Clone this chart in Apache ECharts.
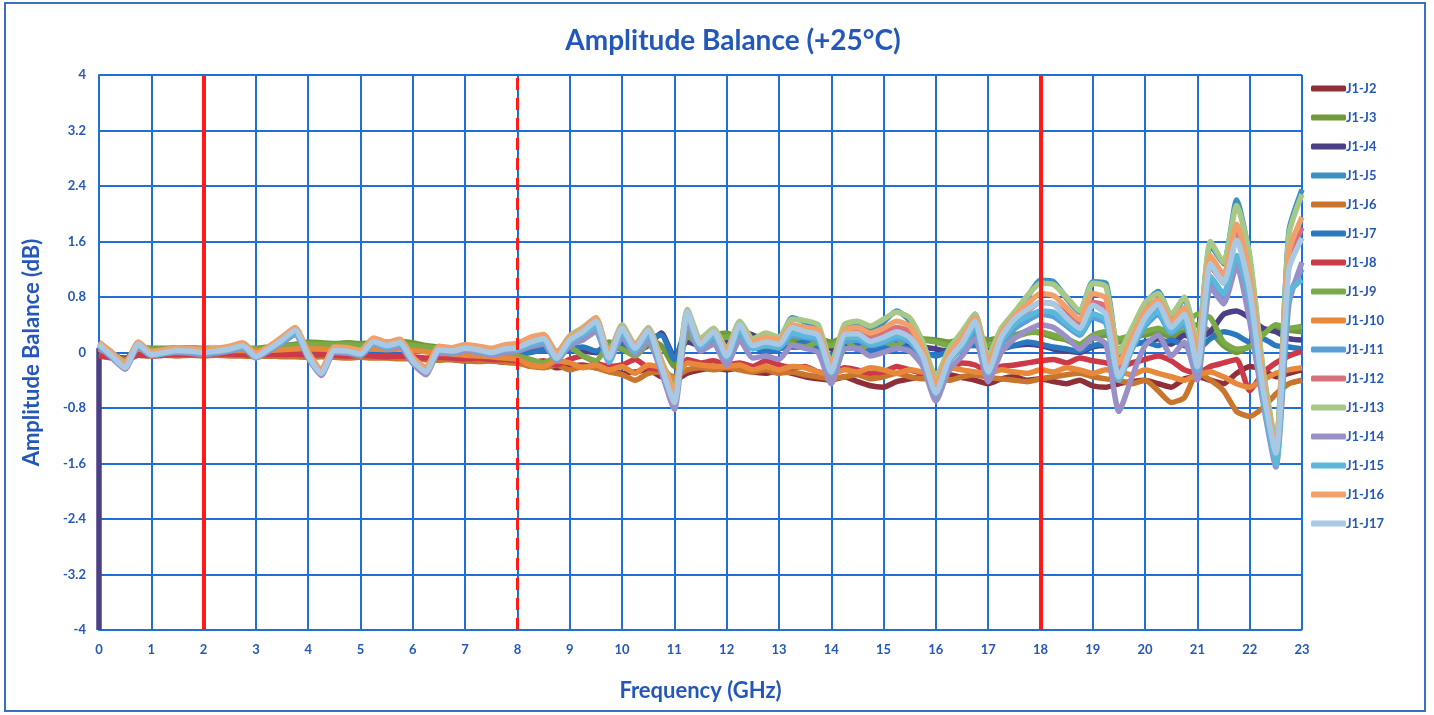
<!DOCTYPE html>
<html>
<head>
<meta charset="utf-8">
<title>Amplitude Balance (+25°C)</title>
<script src="https://cdn.jsdelivr.net/npm/echarts@6/dist/echarts.min.js"></script>
<style>
  html, body { margin: 0; padding: 0; background: #fff; }
  #chart { width: 1434px; height: 715px; }
</style>
</head>
<body>
<div id="chart"></div>
<script>
// sample points (GHz)
const freqGHz = [
  0, 0.25, 0.5, 0.75, 1, 1.25, 1.5, 1.75,
  2, 2.25, 2.5, 2.75, 3, 3.25, 3.5, 3.75,
  4, 4.25, 4.5, 4.75, 5, 5.25, 5.5, 5.75,
  6, 6.25, 6.5, 6.75, 7, 7.25, 7.5, 7.75,
  8, 8.25, 8.5, 8.75, 9, 9.25, 9.5, 9.75,
  10, 10.25, 10.5, 10.75, 11, 11.25, 11.5, 11.75,
  12, 12.25, 12.5, 12.75, 13, 13.25, 13.5, 13.75,
  14, 14.25, 14.5, 14.75, 15, 15.25, 15.5, 15.75,
  16, 16.25, 16.5, 16.75, 17, 17.25, 17.5, 17.75,
  18, 18.25, 18.5, 18.75, 19, 19.25, 19.5, 19.75,
  20, 20.25, 20.5, 20.75, 21, 21.25, 21.5, 21.75,
  22, 22.25, 22.5, 22.75, 23
];

const seriesNames = ['J1-J2', 'J1-J3', 'J1-J4', 'J1-J5', 'J1-J6', 'J1-J7', 'J1-J8', 'J1-J9',
  'J1-J10', 'J1-J11', 'J1-J12', 'J1-J13', 'J1-J14', 'J1-J15', 'J1-J16', 'J1-J17'];

const j2 = [
  0.02, -0.06, -0.08, -0.02, -0.04, -0.04, -0.03, -0.04,
  -0.04, -0.04, -0.03, -0.04, -0.05, -0.05, -0.04, -0.05,
  -0.06, -0.05, -0.06, -0.05, -0.06, -0.07, -0.06, -0.08,
  -0.08, -0.10, -0.09, -0.10, -0.12, -0.11, -0.12, -0.14,
  -0.15, -0.18, -0.16, -0.22, -0.20, -0.18, -0.22, -0.25,
  -0.30, -0.28, -0.25, -0.35, -0.40, -0.30, -0.25, -0.22,
  -0.25, -0.22, -0.28, -0.30, -0.25, -0.30, -0.35, -0.38,
  -0.40, -0.35, -0.42, -0.48, -0.50, -0.42, -0.38, -0.35,
  -0.38, -0.32, -0.36, -0.40, -0.45, -0.38, -0.35, -0.40,
  -0.38, -0.42, -0.45, -0.40, -0.48, -0.50, -0.45, -0.42,
  -0.40, -0.45, -0.50, -0.38, -0.35, -0.40, -0.45, -0.30,
  -0.20, -0.25, -0.35, -0.30, -0.25
];
const j3 = [
  0.08, -0.04, -0.12, 0.08, 0.06, 0.06, 0.07, 0.07,
  0.06, 0.06, 0.07, 0.07, 0.06, 0.08, 0.10, 0.12,
  0.15, 0.14, 0.13, 0.14, 0.13, 0.14, 0.15, 0.16,
  0.14, 0.10, 0.08, 0.06, 0.05, 0.04, 0.02, 0.00,
  -0.02, 0.05, 0.08, 0.02, 0.10, 0.05, 0.00, 0.15,
  0.10, 0.05, 0.18, 0.10, -0.20, 0.30, 0.20, 0.25,
  0.28, 0.20, 0.25, 0.18, 0.22, 0.18, 0.15, 0.20,
  0.15, 0.22, 0.12, 0.20, 0.22, 0.18, 0.25, 0.20,
  0.18, 0.15, 0.20, 0.25, 0.18, 0.22, 0.25, 0.30,
  0.28, 0.22, 0.18, 0.10, 0.20, 0.25, 0.15, 0.22,
  0.25, 0.30, 0.22, 0.30, 0.40, 0.30, 0.10, 0.00,
  0.10, 0.30, 0.35, 0.32, 0.30
];
// J1-J4 starts with a drop to -4 dB at 0 GHz
const j4Start = [0, -4];
const j4 = [
  0.06, -0.02, -0.10, 0.06, 0.03, 0.03, 0.04, 0.04,
  0.03, 0.03, 0.04, 0.04, 0.03, 0.04, 0.05, 0.06,
  0.08, 0.08, 0.07, 0.08, 0.06, 0.07, 0.08, 0.08,
  0.07, 0.05, 0.04, 0.02, 0.01, 0.00, -0.01, -0.02,
  -0.03, 0.02, 0.05, 0.00, 0.06, 0.02, 0.00, 0.08,
  0.05, 0.02, 0.10, 0.28, -0.05, 0.15, 0.10, 0.12,
  0.15, 0.30, 0.25, 0.10, 0.12, 0.08, 0.10, 0.22,
  0.05, 0.10, 0.05, 0.08, 0.10, 0.05, 0.12, 0.08,
  0.05, 0.02, 0.08, 0.12, 0.05, 0.08, 0.10, 0.12,
  0.10, 0.05, 0.02, 0.00, 0.08, 0.10, 0.05, 0.12,
  0.15, 0.20, 0.12, 0.25, 0.20, 0.30, 0.55, 0.60,
  0.50, 0.35, 0.30, 0.20, 0.18
];
const j5 = [
  0.13, -0.02, -0.18, 0.13, -0.02, 0.01, 0.04, 0.03,
  0.01, 0.03, 0.06, 0.11, -0.04, 0.06, 0.20, 0.33,
  -0.03, -0.27, 0.05, 0.04, 0.00, 0.18, 0.12, 0.16,
  -0.10, -0.25, 0.06, 0.04, 0.08, 0.06, 0.03, 0.08,
  0.10, 0.20, 0.24, -0.03, 0.22, 0.34, 0.48, -0.04,
  0.38, 0.10, 0.34, -0.14, -0.60, 0.60, 0.16, 0.33,
  0.02, 0.44, 0.16, 0.22, 0.20, 0.50, 0.44, 0.36,
  -0.20, 0.36, 0.42, 0.32, 0.44, 0.60, 0.46, 0.10,
  -0.40, 0.00, 0.26, 0.55, -0.10, 0.30, 0.56, 0.80,
  1.04, 1.02, 0.78, 0.58, 1.02, 1.00, -0.05, 0.30,
  0.70, 0.88, 0.52, 0.78, 0.10, 1.55, 1.28, 2.20,
  1.35, -0.25, -1.35, 1.75, 2.35
];
const j6 = [
  -0.02, -0.06, -0.10, -0.04, -0.05, -0.04, -0.05, -0.04,
  -0.05, -0.04, -0.05, -0.05, -0.06, -0.05, -0.06, -0.06,
  -0.07, -0.06, -0.07, -0.08, -0.07, -0.08, -0.08, -0.09,
  -0.09, -0.10, -0.11, -0.10, -0.12, -0.13, -0.12, -0.14,
  -0.15, -0.20, -0.22, -0.18, -0.25, -0.20, -0.22, -0.28,
  -0.32, -0.40, -0.30, -0.28, -0.35, -0.25, -0.22, -0.25,
  -0.22, -0.25, -0.28, -0.25, -0.30, -0.28, -0.32, -0.35,
  -0.38, -0.35, -0.32, -0.38, -0.35, -0.30, -0.35, -0.38,
  -0.36, -0.40, -0.35, -0.32, -0.36, -0.38, -0.40, -0.42,
  -0.38, -0.35, -0.32, -0.30, -0.35, -0.38, -0.40, -0.45,
  -0.40, -0.55, -0.72, -0.65, -0.30, -0.40, -0.55, -0.85,
  -0.92, -0.80, -0.60, -0.45, -0.40
];
const j7 = [
  0.05, -0.04, -0.12, 0.05, 0.00, 0.01, 0.02, 0.02,
  0.01, 0.01, 0.02, 0.02, 0.01, 0.02, 0.03, 0.04,
  0.05, 0.05, 0.04, 0.05, 0.04, 0.05, 0.05, 0.06,
  0.05, 0.03, 0.02, 0.01, 0.00, -0.01, -0.02, -0.02,
  -0.03, 0.00, 0.04, -0.02, 0.05, 0.08, 0.02, 0.10,
  0.12, 0.05, 0.20, 0.25, -0.10, 0.35, 0.15, 0.20,
  0.05, 0.22, 0.08, 0.02, 0.05, 0.10, 0.15, 0.05,
  -0.05, 0.05, 0.10, 0.02, 0.08, 0.12, 0.05, 0.00,
  -0.05, 0.02, 0.08, 0.10, 0.00, 0.05, 0.10, 0.15,
  0.12, 0.08, 0.05, 0.02, 0.10, 0.12, 0.05, 0.10,
  0.15, 0.10, 0.18, 0.10, 0.05, 0.20, 0.30, 0.25,
  0.15, 0.20, 0.10, 0.08, 0.05
];
const j8 = [
  -0.05, -0.08, -0.12, -0.04, -0.05, -0.04, -0.03, -0.03,
  -0.03, -0.02, -0.02, -0.03, -0.04, -0.03, -0.03, -0.02,
  -0.04, -0.03, -0.04, -0.05, -0.04, -0.05, -0.06, -0.05,
  -0.06, -0.08, -0.07, -0.08, -0.09, -0.08, -0.10, -0.10,
  -0.12, -0.15, -0.12, -0.18, -0.10, -0.05, -0.15, -0.20,
  -0.18, -0.10, -0.22, -0.25, -0.40, -0.10, -0.15, -0.12,
  -0.18, -0.15, -0.20, -0.12, -0.18, -0.22, -0.20, -0.28,
  -0.30, -0.22, -0.25, -0.30, -0.28, -0.20, -0.25, -0.30,
  -0.32, -0.25, -0.15, -0.18, -0.28, -0.20, -0.18, -0.15,
  -0.12, -0.10, -0.15, -0.08, -0.12, -0.15, -0.22, -0.15,
  -0.10, -0.05, -0.12, -0.25, -0.30, -0.20, -0.15, -0.10,
  -0.55, -0.30, -0.15, -0.05, 0.02
];
const j9 = [
  0.10, -0.02, -0.15, 0.10, 0.04, 0.05, 0.06, 0.06,
  0.05, 0.05, 0.06, 0.06, 0.05, 0.06, 0.08, 0.10,
  0.12, 0.12, 0.11, 0.12, 0.10, 0.11, 0.12, 0.12,
  0.10, 0.08, 0.06, 0.04, 0.03, 0.02, 0.00, -0.02,
  -0.05, -0.10, -0.15, -0.05, 0.08, -0.05, -0.12, 0.10,
  0.05, -0.05, 0.12, -0.15, -0.45, 0.25, 0.10, 0.20,
  0.22, 0.25, 0.15, 0.10, 0.18, 0.12, 0.08, 0.15,
  0.10, 0.18, 0.05, 0.12, 0.15, 0.10, 0.22, 0.18,
  0.15, 0.10, 0.12, 0.18, 0.10, 0.16, 0.22, 0.28,
  0.30, 0.25, 0.20, 0.12, 0.25, 0.30, 0.20, 0.25,
  0.30, 0.35, 0.28, 0.40, 0.55, 0.50, 0.15, 0.05,
  0.08, 0.25, 0.40, 0.35, 0.38
];
const j10 = [
  0.05, -0.03, -0.12, 0.05, 0.00, 0.02, 0.03, 0.02,
  0.01, 0.02, 0.03, 0.03, 0.02, 0.03, 0.04, 0.05,
  0.06, 0.05, 0.04, 0.05, 0.04, 0.05, 0.04, 0.05,
  0.03, 0.01, -0.01, -0.02, -0.04, -0.05, -0.06, -0.08,
  -0.10, -0.18, -0.20, -0.12, -0.15, -0.22, -0.18, -0.25,
  -0.20, -0.30, -0.18, -0.22, -0.38, -0.15, -0.18, -0.20,
  -0.20, -0.18, -0.25, -0.20, -0.25, -0.20, -0.22, -0.28,
  -0.32, -0.25, -0.28, -0.22, -0.25, -0.30, -0.25, -0.28,
  -0.30, -0.22, -0.25, -0.28, -0.30, -0.25, -0.28, -0.30,
  -0.25, -0.28, -0.22, -0.25, -0.30, -0.25, -0.28, -0.32,
  -0.25, -0.30, -0.35, -0.40, -0.32, -0.28, -0.35, -0.45,
  -0.50, -0.40, -0.30, -0.25, -0.22
];
const j11 = [
  0.09, -0.06, -0.19, 0.09, -0.04, -0.01, 0.02, 0.01,
  -0.01, 0.01, 0.03, 0.07, -0.06, 0.03, 0.14, 0.26,
  -0.06, -0.26, 0.02, 0.01, -0.03, 0.13, 0.08, 0.11,
  -0.12, -0.24, 0.03, 0.01, 0.04, 0.03, -0.01, 0.03,
  0.04, 0.10, 0.14, -0.08, 0.12, 0.22, 0.32, -0.10,
  0.26, 0.02, 0.22, -0.20, -0.62, 0.45, 0.08, 0.22,
  -0.06, 0.28, 0.06, 0.10, 0.06, 0.24, 0.22, 0.16,
  -0.26, 0.16, 0.18, 0.10, 0.14, 0.20, 0.15, -0.08,
  -0.52, -0.12, 0.06, 0.32, -0.26, 0.12, 0.34, 0.46,
  0.55, 0.52, 0.38, 0.25, 0.50, 0.42, -0.30, 0.05,
  0.38, 0.55, 0.28, 0.42, -0.30, 1.00, 0.80, 1.30,
  0.70, -0.55, -1.50, 0.80, 1.20
];
const j12 = [
  0.11, -0.04, -0.20, 0.11, -0.02, 0.01, 0.03, 0.02,
  0.00, 0.02, 0.05, 0.10, -0.05, 0.05, 0.17, 0.30,
  -0.04, -0.28, 0.04, 0.03, -0.01, 0.16, 0.10, 0.14,
  -0.11, -0.26, 0.05, 0.03, 0.06, 0.05, 0.01, 0.06,
  0.08, 0.16, 0.20, -0.06, 0.18, 0.30, 0.42, -0.08,
  0.32, 0.05, 0.30, -0.18, -0.66, 0.52, 0.10, 0.26,
  -0.04, 0.35, 0.10, 0.18, 0.14, 0.34, 0.30, 0.26,
  -0.25, 0.26, 0.30, 0.22, 0.28, 0.36, 0.30, 0.00,
  -0.50, -0.06, 0.18, 0.42, -0.20, 0.22, 0.45, 0.60,
  0.72, 0.70, 0.55, 0.40, 0.72, 0.66, -0.25, 0.15,
  0.50, 0.66, 0.40, 0.56, -0.05, 1.25, 1.00, 1.70,
  0.95, -0.40, -1.35, 1.30, 1.80
];
const j13 = [
  0.14, 0.00, -0.15, 0.14, 0.00, 0.03, 0.06, 0.05,
  0.03, 0.05, 0.08, 0.13, -0.02, 0.08, 0.22, 0.35,
  0.00, -0.24, 0.07, 0.06, 0.02, 0.20, 0.14, 0.18,
  -0.08, -0.22, 0.08, 0.06, 0.10, 0.08, 0.05, 0.10,
  0.12, 0.22, 0.25, 0.00, 0.24, 0.36, 0.50, 0.00,
  0.40, 0.12, 0.36, -0.10, -0.55, 0.62, 0.20, 0.35,
  0.05, 0.45, 0.20, 0.28, 0.22, 0.48, 0.46, 0.40,
  -0.15, 0.40, 0.45, 0.38, 0.48, 0.58, 0.50, 0.15,
  -0.35, 0.05, 0.30, 0.55, -0.05, 0.35, 0.58, 0.82,
  1.00, 0.98, 0.80, 0.60, 1.00, 0.95, 0.00, 0.35,
  0.72, 0.85, 0.55, 0.80, 0.15, 1.60, 1.30, 2.12,
  1.40, -0.20, -1.30, 1.70, 2.28
];
const j14 = [
  0.08, -0.08, -0.24, 0.08, -0.05, -0.02, 0.00, -0.01,
  -0.03, -0.01, 0.02, 0.06, -0.08, 0.02, 0.14, 0.26,
  -0.08, -0.33, 0.00, -0.01, -0.05, 0.12, 0.06, 0.08,
  -0.16, -0.32, 0.00, -0.02, 0.02, 0.00, -0.04, 0.00,
  0.02, 0.08, 0.12, -0.12, 0.10, 0.18, 0.30, -0.14,
  0.22, -0.02, 0.16, -0.28, -0.82, 0.42, 0.02, 0.12,
  -0.18, 0.18, -0.08, -0.05, -0.10, 0.10, 0.06, 0.00,
  -0.45, 0.05, 0.06, -0.05, 0.00, 0.06, 0.02, -0.20,
  -0.70, -0.25, -0.05, 0.20, -0.42, 0.00, 0.20, 0.32,
  0.40, 0.36, 0.22, 0.05, 0.22, 0.12, -0.85, -0.35,
  0.10, 0.25, -0.05, 0.15, -0.40, 0.95, 0.70, 1.25,
  0.45, -0.70, -1.65, 0.70, 1.30
];
const j15 = [
  0.10, -0.06, -0.20, 0.10, -0.04, -0.01, 0.02, 0.01,
  -0.01, 0.01, 0.04, 0.08, -0.07, 0.04, 0.16, 0.28,
  -0.06, -0.28, 0.02, 0.01, -0.03, 0.14, 0.08, 0.12,
  -0.13, -0.26, 0.03, 0.01, 0.05, 0.03, -0.01, 0.04,
  0.05, 0.12, 0.16, -0.10, 0.14, 0.26, 0.38, -0.12,
  0.30, 0.02, 0.26, -0.22, -0.70, 0.50, 0.08, 0.24,
  -0.08, 0.32, 0.05, 0.10, 0.08, 0.28, 0.24, 0.20,
  -0.30, 0.20, 0.22, 0.12, 0.16, 0.24, 0.18, -0.08,
  -0.60, -0.14, 0.08, 0.38, -0.30, 0.16, 0.40, 0.52,
  0.60, 0.58, 0.42, 0.28, 0.56, 0.46, -0.40, 0.05,
  0.42, 0.60, 0.30, 0.46, -0.25, 1.10, 0.85, 1.40,
  0.75, -0.60, -1.62, 0.85, 1.05
];
const j16 = [
  0.15, 0.00, -0.17, 0.15, 0.01, 0.04, 0.07, 0.06,
  0.04, 0.06, 0.09, 0.14, -0.01, 0.09, 0.22, 0.36,
  0.00, -0.25, 0.08, 0.07, 0.03, 0.21, 0.15, 0.19,
  -0.07, -0.22, 0.09, 0.07, 0.11, 0.09, 0.06, 0.11,
  0.13, 0.22, 0.26, 0.00, 0.22, 0.34, 0.50, -0.02,
  0.36, 0.10, 0.34, -0.12, -0.60, 0.55, 0.15, 0.30,
  0.02, 0.40, 0.15, 0.22, 0.18, 0.40, 0.36, 0.32,
  -0.20, 0.32, 0.36, 0.28, 0.35, 0.45, 0.38, 0.05,
  -0.45, -0.02, 0.22, 0.50, -0.15, 0.28, 0.52, 0.70,
  0.85, 0.82, 0.65, 0.48, 0.85, 0.78, -0.15, 0.22,
  0.60, 0.76, 0.45, 0.65, 0.00, 1.40, 1.12, 1.85,
  1.10, -0.35, -1.40, 1.45, 1.95
];
const j17 = [
  0.12, -0.05, -0.22, 0.12, -0.03, 0.00, 0.03, 0.02,
  0.00, 0.02, 0.05, 0.10, -0.06, 0.05, 0.18, 0.32,
  -0.05, -0.30, 0.03, 0.02, -0.02, 0.16, 0.10, 0.14,
  -0.12, -0.28, 0.04, 0.02, 0.06, 0.04, 0.00, 0.05,
  0.07, 0.15, 0.20, -0.08, 0.18, 0.30, 0.45, -0.08,
  0.35, 0.06, 0.32, -0.20, -0.72, 0.58, 0.12, 0.30,
  -0.05, 0.40, 0.10, 0.15, 0.12, 0.36, 0.30, 0.25,
  -0.28, 0.26, 0.27, 0.16, 0.22, 0.30, 0.22, -0.05,
  -0.58, -0.10, 0.13, 0.45, -0.28, 0.22, 0.48, 0.62,
  0.72, 0.70, 0.50, 0.35, 0.68, 0.55, -0.35, 0.10,
  0.50, 0.70, 0.36, 0.55, -0.20, 1.28, 1.00, 1.62,
  0.90, -0.50, -1.45, 1.20, 1.65
];

const seriesValues = [j2, j3, j4, j5, j6, j7, j8, j9, j10, j11, j12, j13, j14, j15, j16, j17];
const seriesColors = ['#8f2f3a', '#6f9a3c', '#4b3f85', '#3a92c4', '#c8762e', '#2a78c0', '#cc3a4a', '#7aab48',
  '#e8883a', '#5aa0d8', '#d9707e', '#a8c888', '#9a90c8', '#5ab8dc', '#f0a068', '#a8c8e4'];

// band edge markers (GHz)
const bandEdges = [2, 18];
const dashedEdges = [8];

const blue = '#2358b8';
const gridBlue = '#1f6fd6';
const font = 'Lato, "Open Sans", sans-serif';

const chart = echarts.init(document.getElementById('chart'));

const series = seriesNames.map((name, k) => {
  const data = freqGHz.map((f, i) => [f, seriesValues[k][i]]);
  if (name === 'J1-J4') data.unshift(j4Start);
  return {
    name: name,
    type: 'line',
    data: data,
    showSymbol: false,
    smooth: 0.2,
    color: seriesColors[k],
    lineStyle: { width: 5.5, color: seriesColors[k] },
    emphasis: { disabled: true },
  };
});

series.push({
  name: 'edges',
  type: 'line',
  data: [],
  z: 5,
  markLine: {
    silent: true,
    symbol: 'none',
    label: { show: false },
    data: [
      ...bandEdges.map((x) => ({ xAxis: x, lineStyle: { color: '#ff1a1a', width: 4, type: 'solid' } })),
      ...dashedEdges.map((x) => ({ xAxis: x, lineStyle: { color: '#ff1a1a', width: 3, type: [12, 8] } })),
    ],
  },
});

chart.setOption({
  animation: false,
  backgroundColor: '#fff',
  textStyle: { fontFamily: font },
  title: {
    text: 'Amplitude Balance (+25°C)',
    left: 728,
    textAlign: 'center',
    top: 22,
    textStyle: { color: blue, fontSize: 28, fontWeight: 'bold', fontFamily: font },
  },
  graphic: [
    {
      type: 'rect',
      shape: { x: 5, y: 3, width: 1420, height: 708 },
      style: { fill: 'none', stroke: '#3c6fc4', lineWidth: 2 },
      silent: true,
    },
  ],
  legend: {
    data: seriesNames,
    orient: 'vertical',
    left: 1306,
    top: 77,
    icon: 'roundRect',
    itemWidth: 35,
    itemHeight: 6,
    itemGap: 16,
    textStyle: { color: blue, fontSize: 13, fontWeight: 'bold', fontFamily: font, padding: [0, 0, 0, -5] },
  },
  grid: { left: 99, right: 132, top: 75, bottom: 85, containLabel: false },
  xAxis: {
    type: 'value',
    min: 0,
    max: 23,
    interval: 1,
    name: 'Frequency (GHz)',
    nameLocation: 'middle',
    nameGap: 50,
    nameTextStyle: { color: blue, fontSize: 22, fontWeight: 'bold' },
    axisLine: { show: true, lineStyle: { color: gridBlue, width: 2 } },
    axisTick: { show: false },
    axisLabel: { color: blue, fontSize: 13, fontWeight: 'bold', margin: 13 },
    splitLine: { show: true, lineStyle: { color: gridBlue, width: 2 } },
  },
  yAxis: {
    type: 'value',
    min: -4,
    max: 4,
    interval: 0.8,
    name: 'Amplitude Balance (dB)',
    nameLocation: 'middle',
    nameGap: 56,
    nameTextStyle: { color: blue, fontSize: 22, fontWeight: 'bold' },
    axisLine: { show: true, onZero: false, lineStyle: { color: gridBlue, width: 2 } },
    axisTick: { show: false },
    axisLabel: {
      color: blue,
      fontSize: 13,
      fontWeight: 'bold',
      margin: 13,
      formatter: (v) => String(+v.toFixed(1)),
    },
    splitLine: { show: true, lineStyle: { color: gridBlue, width: 2 } },
  },
  series: series,
});
</script>
</body>
</html>
